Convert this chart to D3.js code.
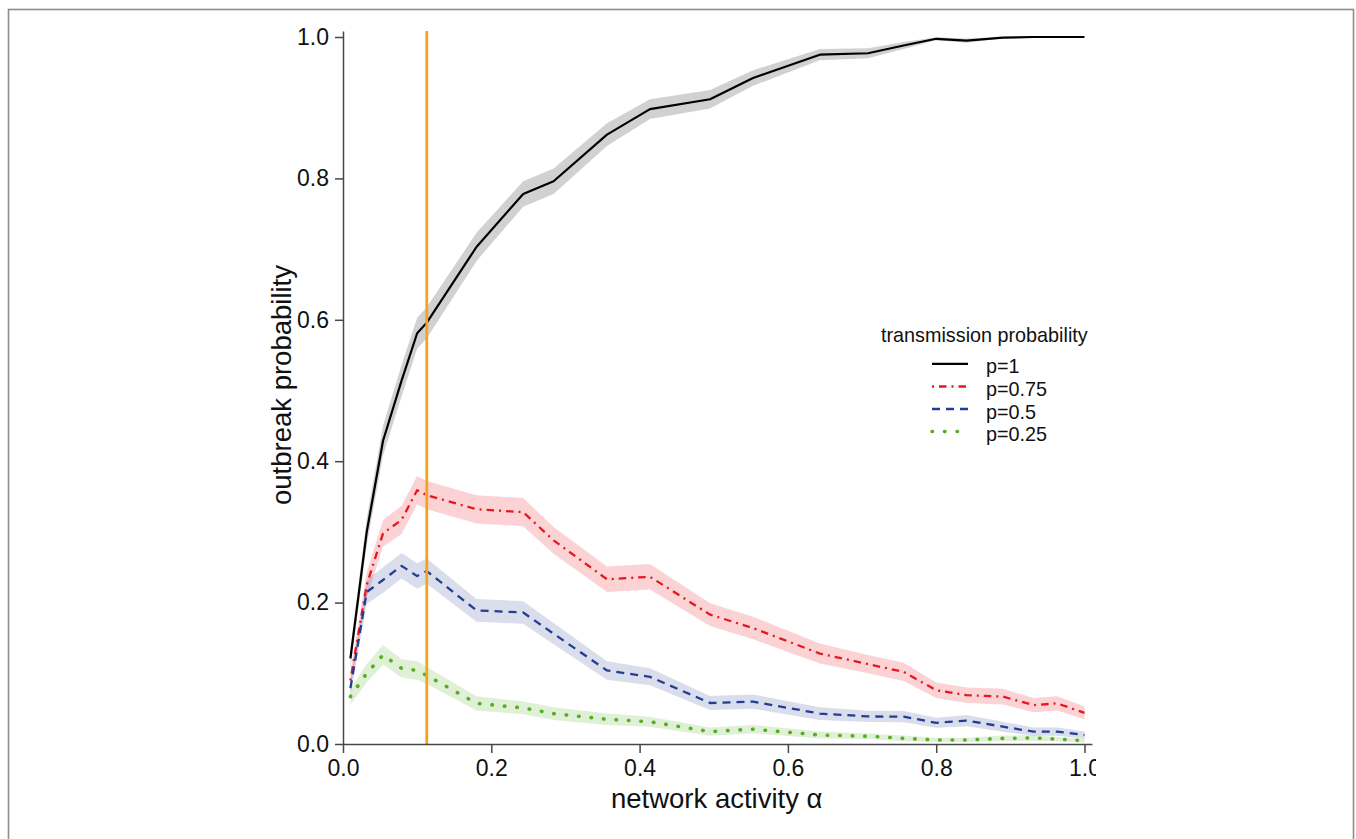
<!DOCTYPE html>
<html>
<head>
<meta charset="utf-8">
<script src="https://cdn.jsdelivr.net/npm/d3@7"></script>
<style>
	body { margin: 0; background: #fff; }
	svg { display: block; }
</style>
</head>
<body>
<div id="chart"></div>
<script>

// sampled network activity values (x)
var alpha = [0.01, 0.032, 0.054, 0.079, 0.1, 0.113, 0.18, 0.243, 0.284, 0.356, 0.414,
	0.495, 0.553, 0.643, 0.708, 0.756, 0.80, 0.841, 0.89, 0.931, 0.963, 1.0];

// outbreak probability per transmission probability
var p100 = [0.121, 0.30, 0.429, 0.514, 0.581, 0.596, 0.703, 0.778, 0.796, 0.862, 0.898,
	0.912, 0.942, 0.975, 0.977, 0.988, 0.9975, 0.995, 0.999, 1.0, 1.0, 1.0];
var p075 = [0.09, 0.225, 0.298, 0.317, 0.359, 0.352, 0.332, 0.328, 0.288, 0.233, 0.2365,
	0.183, 0.164, 0.128, 0.113, 0.102, 0.076, 0.069, 0.067, 0.055, 0.0575, 0.044];
var p050 = [0.079, 0.215, 0.232, 0.252, 0.2375, 0.2445, 0.189, 0.186, 0.156, 0.104, 0.095,
	0.058, 0.06, 0.043, 0.039, 0.0386, 0.030, 0.033, 0.0245, 0.0175, 0.0175, 0.0127];
var p025 = [0.067, 0.1, 0.126, 0.107, 0.104, 0.097, 0.0575, 0.051, 0.043, 0.035, 0.0315,
	0.0175, 0.021, 0.0127, 0.011, 0.008, 0.0057, 0.0057, 0.008, 0.0085, 0.007, 0.0047];

// half width of the shaded confidence band
var e100 = [0.014, 0.019, 0.021, 0.022, 0.022, 0.022, 0.020, 0.018, 0.018, 0.016, 0.014,
	0.013, 0.011, 0.008, 0.007, 0.005, 0.002, 0.003, 0.001, 0, 0, 0];
var e075 = [0.012, 0.018, 0.019, 0.020, 0.020, 0.020, 0.020, 0.020, 0.019, 0.018, 0.018,
	0.016, 0.016, 0.014, 0.013, 0.013, 0.011, 0.011, 0.011, 0.010, 0.010, 0.009];
var e050 = [0.011, 0.017, 0.018, 0.018, 0.018, 0.018, 0.016, 0.016, 0.015, 0.013, 0.012,
	0.010, 0.010, 0.009, 0.008, 0.008, 0.007, 0.008, 0.007, 0.006, 0.006, 0.005];
var e025 = [0.011, 0.013, 0.014, 0.013, 0.013, 0.012, 0.010, 0.009, 0.009, 0.008, 0.007,
	0.006, 0.006, 0.005, 0.004, 0.004, 0.003, 0.003, 0.004, 0.004, 0.003, 0.003];

var seriesLabels = ['p=1', 'p=0.75', 'p=0.5', 'p=0.25'];
var xTicks = [0, 0.2, 0.4, 0.6, 0.8, 1.0];
var yTicks = [0, 0.2, 0.4, 0.6, 0.8, 1.0];
var markerAlpha = 0.113;

var series = [
	{ label: seriesLabels[0], values: p100, err: e100, color: '#000000', band: '#000000', bandOpacity: 0.18, dash: null, width: 2.2, cap: 'butt' },
	{ label: seriesLabels[1], values: p075, err: e075, color: '#e8161e', band: '#e8161e', bandOpacity: 0.19, dash: '2,5,7.5,5', width: 2.3, cap: 'butt' },
	{ label: seriesLabels[2], values: p050, err: e050, color: '#233d94', band: '#2a4596', bandOpacity: 0.18, dash: '8,6', width: 2.3, cap: 'butt' },
	{ label: seriesLabels[3], values: p025, err: e025, color: '#58ad27', band: '#58ad27', bandOpacity: 0.19, dash: '0.5,12', width: 3.6, cap: 'round' }
];

var W = 1356, H = 839;
var font = '"Liberation Sans", Arial, Helvetica, sans-serif';
var narrow = '"Liberation Sans Narrow", "Arial Narrow", "Liberation Sans", sans-serif';

var svg = d3.select('#chart').append('svg')
	.attr('width', W)
	.attr('height', H);

// outer frame
svg.append('rect')
	.attr('x', 8.5).attr('y', 9.5)
	.attr('width', 1345).attr('height', 850)
	.attr('fill', 'none')
	.attr('stroke', '#8c8c8c')
	.attr('stroke-width', 1.6);

var x = d3.scaleLinear().domain([0, 1.01]).range([343, 343 + 741.5 * 1.01]);
var y = d3.scaleLinear().domain([0, 1.0085]).range([744, 31]);

function clamp(v) { return Math.max(0, Math.min(1, v)); }

// bands first, lines on top
series.forEach(function (s) {
	var area = d3.area()
		.x(function (d, i) { return x(alpha[i]); })
		.y0(function (d, i) { return y(clamp(d - s.err[i])); })
		.y1(function (d, i) { return y(clamp(d + s.err[i])); });
	svg.append('path')
		.datum(s.values)
		.attr('d', area)
		.attr('fill', s.band)
		.attr('fill-opacity', s.bandOpacity)
		.attr('stroke', 'none');
});

series.forEach(function (s) {
	var line = d3.line()
		.x(function (d, i) { return x(alpha[i]); })
		.y(function (d) { return y(d); });
	svg.append('path')
		.datum(s.values)
		.attr('d', line)
		.attr('fill', 'none')
		.attr('stroke', s.color)
		.attr('stroke-width', s.width)
		.attr('stroke-linecap', s.cap)
		.attr('stroke-linejoin', 'round')
		.attr('stroke-dasharray', s.dash);
});

// vertical marker
svg.append('line')
	.attr('x1', x(markerAlpha)).attr('x2', x(markerAlpha))
	.attr('y1', y(1.0085)).attr('y2', y(0))
	.attr('stroke', '#f5a31c')
	.attr('stroke-width', 2.8);

// axes
var xAxis = d3.axisBottom(x)
	.tickValues(xTicks)
	.tickFormat(d3.format('.1f'))
	.tickSize(9)
	.tickSizeOuter(0)
	.tickPadding(7);

var yAxis = d3.axisLeft(y)
	.tickValues(yTicks)
	.tickFormat(d3.format('.1f'))
	.tickSize(8)
	.tickSizeOuter(0)
	.tickPadding(6);

// the last x label is cut at the plot edge in the original
svg.append('clipPath').attr('id', 'xlab-clip')
	.append('rect').attr('x', 0).attr('y', -20).attr('width', 1096).attr('height', 100);

var gx = svg.append('g').attr('transform', 'translate(0,' + y(0) + ')')
	.attr('clip-path', 'url(#xlab-clip)')
	.call(xAxis);
var gy = svg.append('g').attr('transform', 'translate(' + x(0) + ',0)').call(yAxis);

[gx, gy].forEach(function (g) {
	g.selectAll('path, line').attr('stroke', '#474747').attr('stroke-width', 1.5);
	g.selectAll('text').attr('fill', '#111').style('font-family', narrow).style('font-size', '23px');
});

svg.append('text')
	.attr('x', (x(0) + x(1)) / 2 + 3)
	.attr('y', 808)
	.attr('text-anchor', 'middle')
	.style('font-family', font)
	.style('font-size', '27.5px')
	.attr('fill', '#111')
	.text('network activity \u03b1');

svg.append('text')
	.attr('transform', 'translate(291,385) rotate(-90)')
	.attr('text-anchor', 'middle')
	.style('font-family', font)
	.style('font-size', '27.5px')
	.attr('fill', '#111')
	.text('outbreak probability');

// legend
var legend = svg.append('g');
legend.append('text')
	.attr('x', 881)
	.attr('y', 341.5)
	.style('font-family', font)
	.style('font-size', '19.8px')
	.attr('fill', '#111')
	.text('transmission probability');

var baselines = [373.3, 396, 418.5, 441];
series.forEach(function (s, i) {
	legend.append('line')
		.attr('x1', 932).attr('x2', 968)
		.attr('y1', baselines[i] - 9.5).attr('y2', baselines[i] - 9.5)
		.attr('stroke', s.color)
		.attr('stroke-width', s.width)
		.attr('stroke-linecap', s.cap)
		.attr('stroke-dasharray', s.dash);
	legend.append('text')
		.attr('x', 986)
		.attr('y', baselines[i])
		.style('font-family', font)
		.style('font-size', '19.8px')
		.attr('fill', '#111')
		.text(s.label);
});

</script>
</body>
</html>
